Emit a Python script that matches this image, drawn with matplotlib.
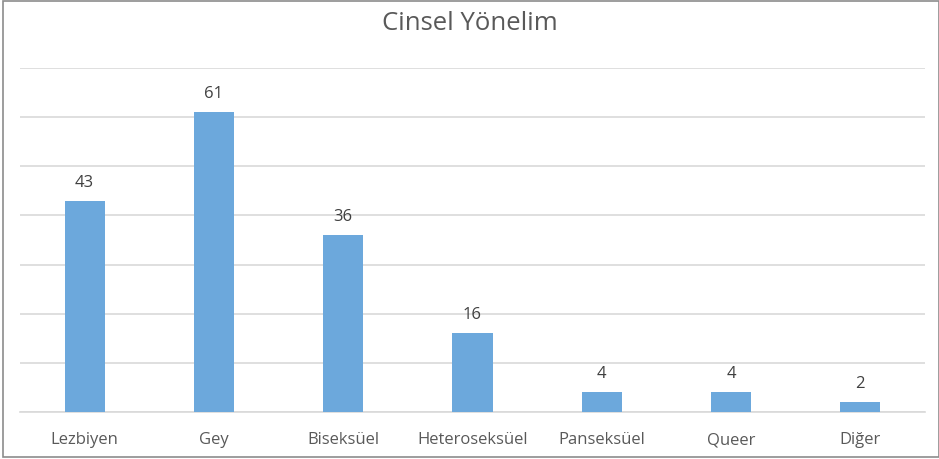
import matplotlib
matplotlib.use("Agg")
import matplotlib.pyplot as plt
from matplotlib.patches import Rectangle

categories = ["Lezbiyen", "Gey", "Biseksüel", "Heteroseksüel", "Panseksüel", "Queer", "Diğer"]
values = [43, 61, 36, 16, 4, 4, 2]
title = "Cinsel Yönelim"

plt.rcParams['font.family'] = ['Open Sans', 'DejaVu Sans']
txt = "#595959"

fig = plt.figure(figsize=(9.39, 4.6), dpi=100)
fig.patches.append(Rectangle((3/939, 2/460), 1 - 3/939, 1 - 4/460, transform=fig.transFigure,
                             fill=False, edgecolor="#8c8c8c", linewidth=1.2))
ax = fig.add_axes([20/939, 1 - 413/460, 905/939, (413 - 69)/460])
x = list(range(len(categories)))
ax.bar(x, values, width=0.31, color="#6CA8DC", zorder=3)
ax.set_xlim(-0.5, len(categories) - 0.5)
ax.set_ylim(0, 70)
ax.set_yticks(range(0, 71, 10))
ax.yaxis.grid(True, color="#D9D9D9", linewidth=1.2, zorder=0)
ax.tick_params(axis='y', left=False, labelleft=False)
ax.tick_params(axis='x', bottom=False, labelsize=12, labelcolor=txt, pad=10.5)
ax.set_xticks(x)
ax.set_xticklabels(categories)
for s in ["top", "right", "left"]:
    ax.spines[s].set_visible(False)
ax.spines["bottom"].set_color("#D9D9D9")
ax.spines["bottom"].set_linewidth(1.2)
for xi, v in zip(x, values):
    ax.annotate(str(v), (xi, v), xytext=(0, 8), textcoords="offset points",
                ha="center", va="bottom", fontsize=12, color="#404040")
fig.text(0.5, 1 - 24/460, title, ha="center", va="center", fontsize=18.5, color=txt)
fig.savefig("out.png", dpi=100)
